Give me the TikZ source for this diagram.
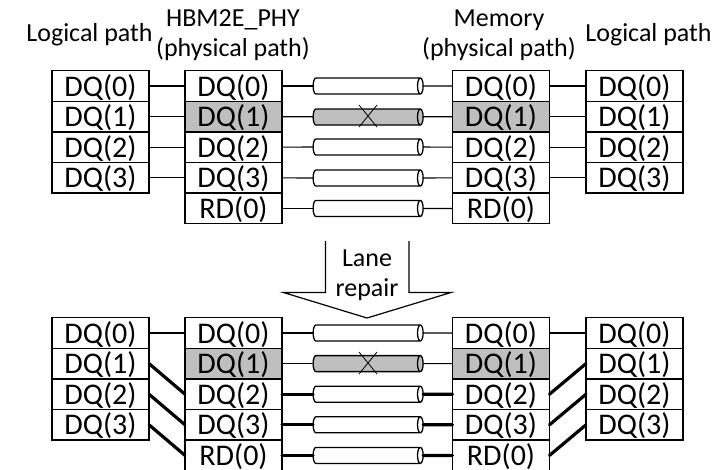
\documentclass[tikz,border=0pt]{standalone}
\usepackage{fontspec}
\setmainfont{Carlito}
\usetikzlibrary{shapes.geometric,shapes.misc}
\definecolor{lanegray}{HTML}{BFBFBF}
\tikzset{
  cell/.style={draw,line width=1.3pt,minimum width=97pt,minimum height=30.6pt,inner sep=0pt,outer sep=0pt,
    text height=22pt,text depth=2pt,font=\fontsize{30}{32}\selectfont},
  badcell/.style={cell,fill=lanegray},
  cable/.style={draw,shape=cylinder,line width=1.3pt,minimum width=16pt,minimum height=110pt,shape aspect=0.35,
    inner xsep=0pt,inner ysep=8pt,outer sep=0pt,shape border rotate=0},
  badcable/.style={cable,fill=lanegray},
  cross/.style={cross out,draw,line width=0.8pt,minimum width=18pt,minimum height=22pt,inner sep=0pt,outer sep=0pt},
  head/.style={align=center,inner sep=0pt,font=\fontsize{26}{30}\selectfont},
  wire/.style={line width=1.2pt},
  fat/.style={line width=3.2pt,line cap=round},
}
\begin{document}
\begin{tikzpicture}[x=1pt,y=-1pt]
\useasboundingbox (0,0) rectangle (720,469);
\node[head] (hla) at (89.5,35) {Logical path};
\node[head] (hpa) at (233,35) {HBM2E\_PHY\\(physical path)};
\node[head] (hma) at (499,35) {Memory\\(physical path)};
\node[head] (hra) at (648.5,35) {Logical path};
\node[cell] (la0) at (100.5,86) {DQ(0)};
\node[cell] (la1) at (100.5,116.6) {DQ(1)};
\node[cell] (la2) at (100.5,147.2) {DQ(2)};
\node[cell] (la3) at (100.5,177.8) {DQ(3)};
\node[cell] (pa0) at (233.5,86) {DQ(0)};
\node[badcell] (pa1) at (233.5,116.6) {DQ(1)};
\node[cell] (pa2) at (233.5,147.2) {DQ(2)};
\node[cell] (pa3) at (233.5,177.8) {DQ(3)};
\node[cell] (pa4) at (233.5,208.4) {RD(0)};
\node[cell] (ma0) at (501,86) {DQ(0)};
\node[badcell] (ma1) at (501,116.6) {DQ(1)};
\node[cell] (ma2) at (501,147.2) {DQ(2)};
\node[cell] (ma3) at (501,177.8) {DQ(3)};
\node[cell] (ma4) at (501,208.4) {RD(0)};
\node[cell] (ra0) at (634.5,86) {DQ(0)};
\node[cell] (ra1) at (634.5,116.6) {DQ(1)};
\node[cell] (ra2) at (634.5,147.2) {DQ(2)};
\node[cell] (ra3) at (634.5,177.8) {DQ(3)};
\node[cable] (ca0) at (365,86) {};
\node[badcable] (ca1) at (365,117) {};
\node[cable] (ca2) at (365,147) {};
\node[cable] (ca3) at (365,178) {};
\node[cable] (ca4) at (365,208.4) {};
\node[cross] (xa) at (368,116) {};
\draw[wire] (la0) -- (pa0);
\draw[wire] (la1) -- (pa1);
\draw[wire] (la2) -- (pa2);
\draw[wire] (la3) -- (pa3);
\draw[wire] (pa0) -- (ca0);
\draw[wire] (pa1) -- (ca1);
\draw[wire] (pa2) -- (ca2);
\draw[wire] (pa3) -- (ca3);
\draw[wire] (pa4) -- (ca4);
\draw[wire] (ca0) -- (ma0);
\draw[wire] (ca1) -- (ma1);
\draw[wire] (ca2) -- (ma2);
\draw[wire] (ca3) -- (ma3);
\draw[wire] (ca4) -- (ma4);
\draw[wire] (ma0) -- (ra0);
\draw[wire] (ma1) -- (ra1);
\draw[wire] (ma2) -- (ra2);
\draw[wire] (ma3) -- (ra3);
\draw[line width=1.2pt,line join=miter] (325.5,241)--(325.5,292.5)--(283.5,292.5)--(367,318)--(451,292.5)--(409,292.5)--(409,241);
\node[head] (rep) at (367,275.5) {Lane\\repair};
\node[cell] (lb0) at (100.5,333) {DQ(0)};
\node[cell] (lb1) at (100.5,363.6) {DQ(1)};
\node[cell] (lb2) at (100.5,394.2) {DQ(2)};
\node[cell] (lb3) at (100.5,424.8) {DQ(3)};
\node[cell] (pb0) at (233.5,333) {DQ(0)};
\node[badcell] (pb1) at (233.5,363.6) {DQ(1)};
\node[cell] (pb2) at (233.5,394.2) {DQ(2)};
\node[cell] (pb3) at (233.5,424.8) {DQ(3)};
\node[cell] (pb4) at (233.5,455.4) {RD(0)};
\node[cell] (mb0) at (501,333) {DQ(0)};
\node[badcell] (mb1) at (501,363.6) {DQ(1)};
\node[cell] (mb2) at (501,394.2) {DQ(2)};
\node[cell] (mb3) at (501,424.8) {DQ(3)};
\node[cell] (mb4) at (501,455.4) {RD(0)};
\node[cell] (rb0) at (634.5,333) {DQ(0)};
\node[cell] (rb1) at (634.5,363.6) {DQ(1)};
\node[cell] (rb2) at (634.5,394.2) {DQ(2)};
\node[cell] (rb3) at (634.5,424.8) {DQ(3)};
\node[cable] (cb0) at (365,333) {};
\node[badcable] (cb1) at (365,363.6) {};
\node[cable] (cb2) at (365,394.2) {};
\node[cable] (cb3) at (365,424.8) {};
\node[cable] (cb4) at (365,455.4) {};
\node[cross] (xb) at (368,363) {};
\draw[wire] (lb0) -- (pb0);
\draw[fat] (lb1.east) -- (pb2.west);
\draw[fat] (lb2.east) -- (pb3.west);
\draw[fat] (lb3.east) -- (pb4.west);
\draw[wire] (pb0) -- (cb0);
\draw[wire] (pb1) -- (cb1);
\draw[fat] (pb2.east) -- (cb2);
\draw[fat] (pb3.east) -- (cb3);
\draw[fat] (pb4.east) -- (cb4);
\draw[wire] (cb0) -- (mb0);
\draw[wire] (cb1) -- (mb1);
\draw[fat] (cb2) -- (mb2.west);
\draw[fat] (cb3) -- (mb3.west);
\draw[fat] (cb4) -- (mb4.west);
\draw[wire] (mb0) -- (rb0);
\draw[fat] (mb2.east) -- (rb1.west);
\draw[fat] (mb3.east) -- (rb2.west);
\draw[fat] (mb4.east) -- (rb3.west);
\end{tikzpicture}
\end{document}
